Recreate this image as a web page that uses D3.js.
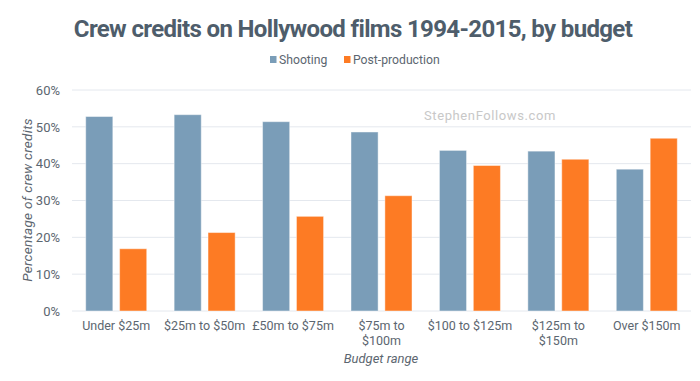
<!DOCTYPE html>
<html><head><meta charset="utf-8">
<script src="https://cdn.jsdelivr.net/npm/d3@7"></script>
<style>body{margin:0;background:#fff}svg{display:block}</style>
</head><body>
<svg id="c" width="700" height="381"></svg>
<script>
const categories = [["Under $25m"],["$25m to $50m"],["£50m to $75m"],["$75m to","$100m"],["$100 to $125m"],["$125m to","$150m"],["Over $150m"]];
const seriesNames = ["Shooting","Post-production"];
const shooting = [52.8, 53.3, 51.4, 48.6, 43.6, 43.4, 38.5];
const post = [16.9, 21.3, 25.7, 31.3, 39.5, 41.2, 46.9];
const yTicks = [0,10,20,30,40,50,60];
const colors = ["#7a9db8","#fd7b24"];

const svg = d3.select("#c");
const font = "Roboto, 'Open Sans', sans-serif";
const x0 = d3.scaleBand().domain(d3.range(categories.length)).range([72, 691]).paddingInner(0.31).paddingOuter(0.155);
const x1 = d3.scaleBand().domain([0,1]).range([0, x0.bandwidth()]).paddingInner(0.2);
const y = d3.scaleLinear().domain([0,60]).range([311, 90]);

// gridlines
svg.append("g").selectAll("line").data(yTicks).join("line")
  .attr("x1",72).attr("x2",691).attr("y1",d=>y(d)).attr("y2",d=>y(d))
  .attr("stroke","#e4e8ee").attr("stroke-width",1);

// y axis labels
const yAxis = d3.axisLeft(y).tickValues(yTicks).tickFormat(d=>d+"%").tickSize(0).tickPadding(12);
const ga = svg.append("g").attr("transform","translate(72,0)").call(yAxis);
ga.select(".domain").remove();
ga.selectAll("text").attr("font-family",font).attr("font-size",13).attr("fill","#5c6670");

// watermark
svg.append("text").attr("x",490).attr("y",120).attr("text-anchor","middle")
  .attr("font-family",font).attr("font-size",13).attr("fill","#c8c8c8").attr("letter-spacing",0.6)
  .text("StephenFollows.com");

// bars
const data = categories.map((c,i)=>({i, vals:[shooting[i], post[i]]}));
const g = svg.append("g").selectAll("g").data(data).join("g").attr("transform",d=>`translate(${x0(d.i)},0)`);
g.selectAll("rect").data(d=>d.vals.map((v,k)=>({v,k}))).join("rect")
  .attr("x",d=>x1(d.k)).attr("width",x1.bandwidth())
  .attr("y",d=>y(d.v)).attr("height",d=>y(0)-y(d.v))
  .attr("fill",d=>colors[d.k]).attr("stroke","rgba(255,255,255,0.45)").attr("stroke-width",1);

// x labels
const xl = svg.append("g").selectAll("text").data(categories).join("text")
  .attr("x",(d,i)=>x0(i)+x0.bandwidth()/2).attr("y",330)
  .attr("text-anchor","middle").attr("font-family",font).attr("font-size",12.5).attr("fill","#5c6670");
xl.selectAll("tspan").data(d=>d).join("tspan")
  .attr("x",function(){return this.parentNode.getAttribute("x");})
  .attr("dy",(d,k)=>k?15:0).text(d=>d);

// axis titles
svg.append("text").attr("x",381).attr("y",363).attr("text-anchor","middle")
  .attr("font-family",font).attr("font-size",13).attr("font-style","italic").attr("fill","#5c6670").text("Budget range");
svg.append("text").attr("transform","translate(32,200) rotate(-90)").attr("text-anchor","middle")
  .attr("font-family",font).attr("font-size",13.5).attr("letter-spacing",0.3).attr("font-style","italic").attr("fill","#5c6670").text("Percentage of crew credits");

// title
svg.append("text").attr("x",353).attr("y",37).attr("text-anchor","middle")
  .attr("font-family",font).attr("font-size",24).attr("font-weight","bold").attr("fill","#4e5d6b")
  .attr("letter-spacing",-0.65)
  .text("Crew credits on Hollywood films 1994-2015, by budget");

// legend
const lg = svg.append("g");
const items = [{n:seriesNames[0],x:270},{n:seriesNames[1],x:344}];
items.forEach((it,k)=>{
  lg.append("rect").attr("x",it.x).attr("y",56).attr("width",6.5).attr("height",7).attr("fill",colors[k]);
  lg.append("text").attr("x",it.x+9).attr("y",64).attr("font-family",font).attr("font-size",12.2).attr("fill","#5c6670").text(it.n);
});
</script>
</body></html>
